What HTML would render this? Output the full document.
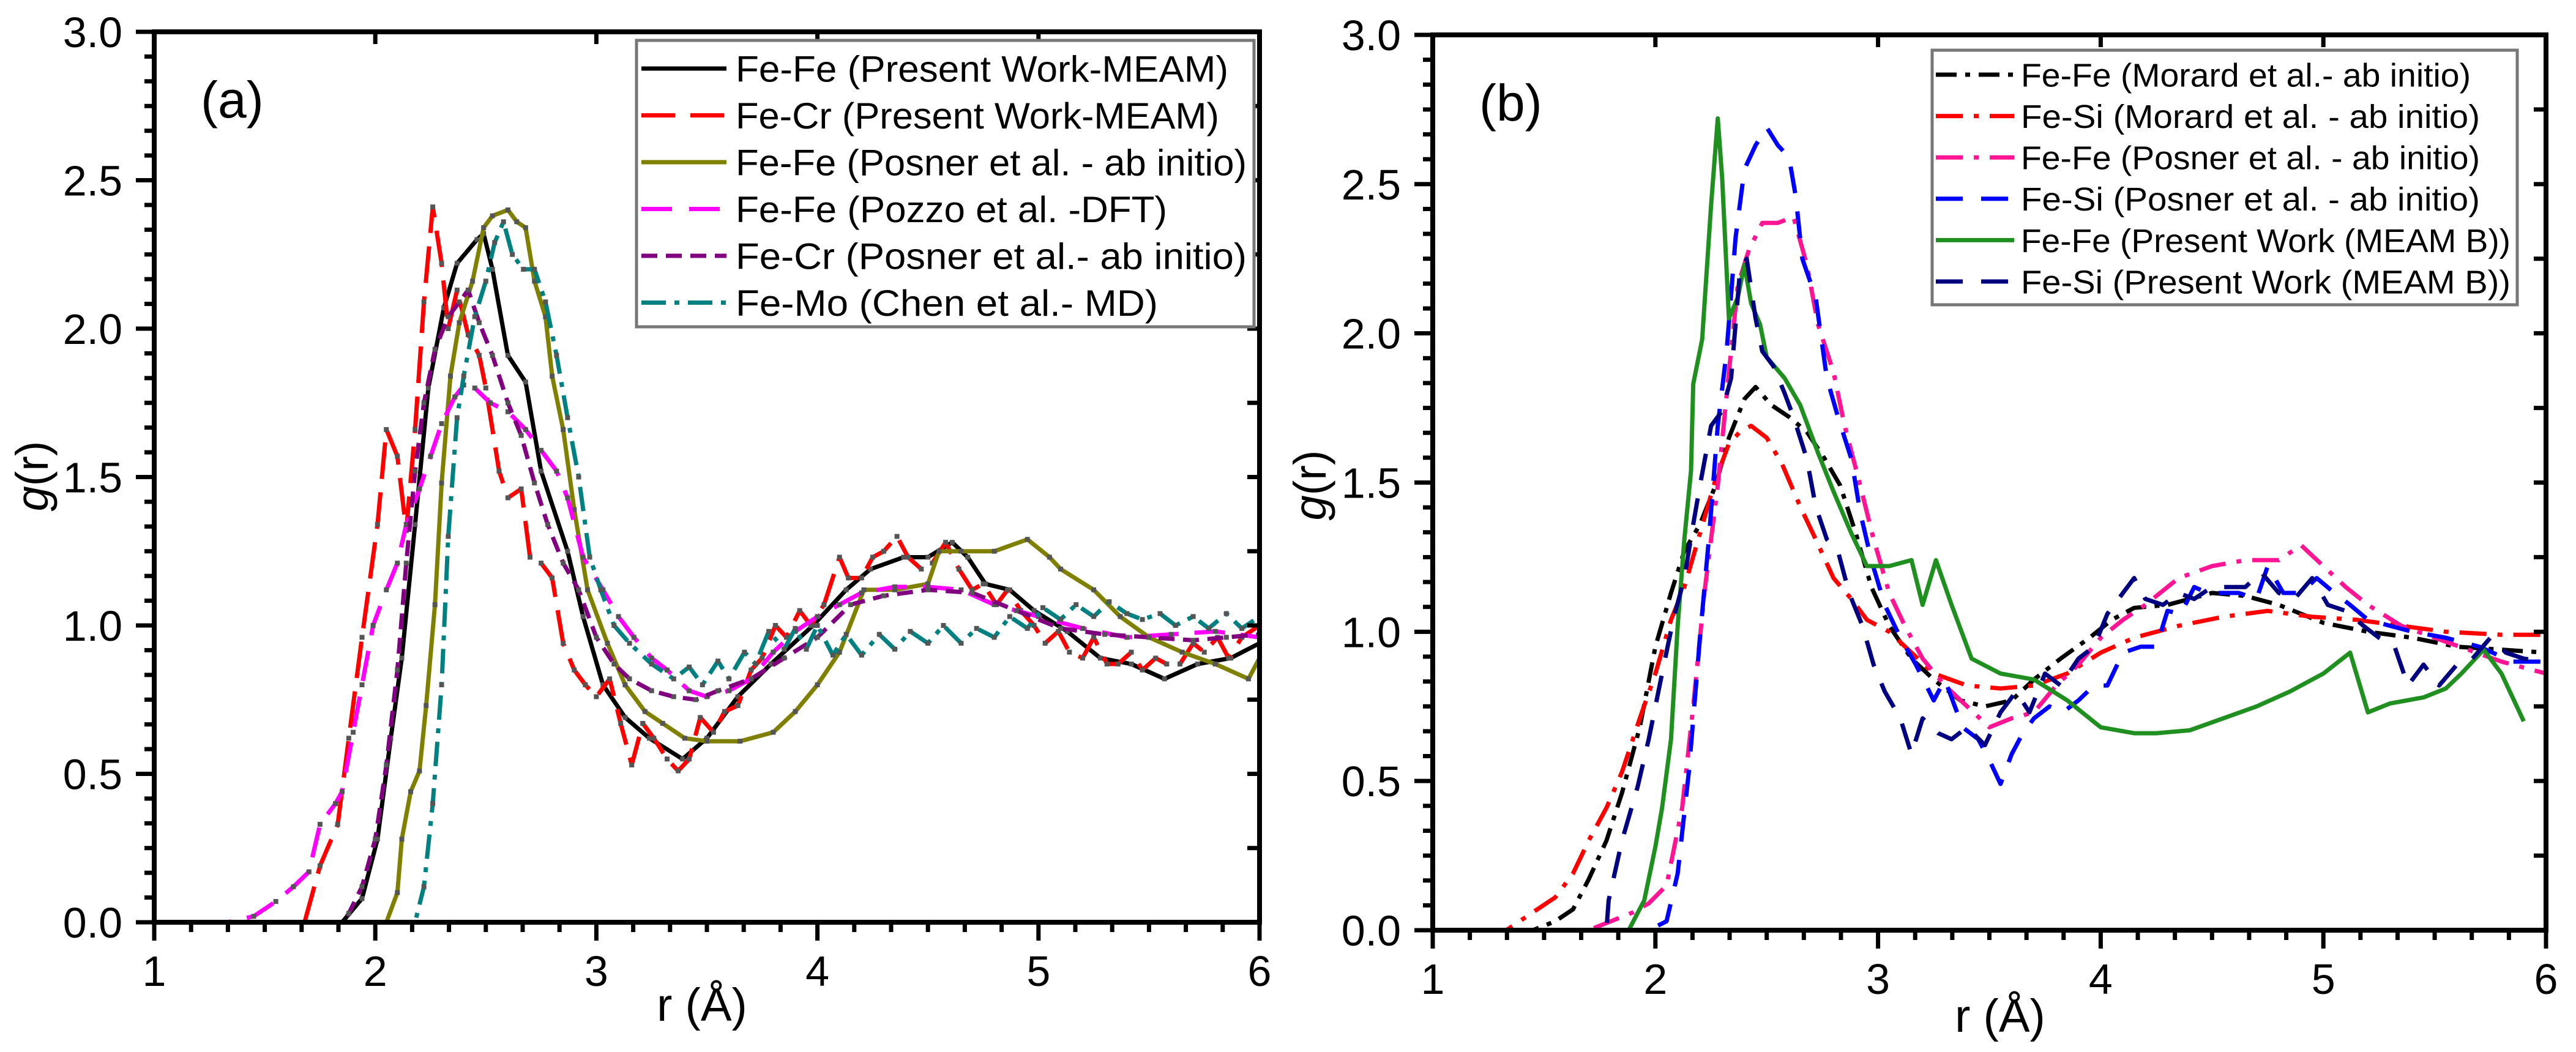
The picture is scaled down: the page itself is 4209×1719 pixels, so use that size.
<!DOCTYPE html>
<html><head><meta charset="utf-8"><style>
html,body{margin:0;padding:0;background:#fff;}
svg{display:block;font-family:"Liberation Sans",sans-serif;}
</style></head><body>
<svg id="fig" width="4209" height="1719" viewBox="0 0 4209 1719" xmlns="http://www.w3.org/2000/svg">
<g id="pa"></g>
<g id="pb"></g>
</svg>
<script>
// ---------- Panel (a) data ----------
const a_blackR=[1,1.85,1.94,2.01,2.07,2.12,2.18,2.24,2.31,2.37,2.46,2.49,2.53,2.6,2.68,2.75,2.87,2.94,3.03,3.13,3.24,3.39,3.5,3.64,3.79,3.98,4.13,4.24,4.39,4.5,4.61,4.68,4.76,4.87,4.98,5.13,5.28,5.42,5.57,5.72,5.87,6.0];
const a_blackG=[0,0,0.08,0.28,0.62,0.89,1.34,1.8,2.07,2.22,2.3,2.32,2.2,1.91,1.82,1.52,1.25,1.03,0.8,0.69,0.62,0.55,0.62,0.76,0.87,1.0,1.12,1.19,1.23,1.23,1.28,1.23,1.14,1.12,1.05,0.98,0.89,0.87,0.82,0.87,0.89,0.94];
const a_redR=[1,1.68,1.75,1.83,1.88,1.94,2.01,2.05,2.1,2.14,2.18,2.22,2.26,2.3,2.33,2.37,2.42,2.47,2.5,2.56,2.6,2.66,2.7,2.75,2.8,2.85,2.9,2.95,3.0,3.06,3.11,3.16,3.21,3.26,3.32,3.37,3.42,3.47,3.53,3.58,3.64,3.7,3.75,3.81,3.86,3.92,3.97,4.03,4.1,4.14,4.2,4.25,4.3,4.36,4.41,4.47,4.52,4.58,4.64,4.7,4.75,4.81,4.86,4.92,4.98,5.03,5.09,5.14,5.2,5.25,5.31,5.36,5.42,5.47,5.53,5.58,5.64,5.7,5.75,5.81,5.86,5.92,6.0];
const a_redG=[0,0,0.19,0.33,0.62,0.96,1.34,1.66,1.57,1.32,1.66,2.09,2.41,2.22,2.0,2.13,1.98,1.91,1.8,1.52,1.43,1.46,1.23,1.21,1.16,0.94,0.85,0.8,0.76,0.82,0.67,0.53,0.67,0.62,0.55,0.51,0.55,0.69,0.64,0.71,0.73,0.85,0.89,1.0,0.96,1.05,1.0,1.07,1.23,1.16,1.16,1.23,1.25,1.3,1.23,1.19,1.21,1.28,1.19,1.12,1.14,1.07,1.12,1.05,1.0,0.94,0.98,0.91,0.89,0.96,0.87,0.87,0.91,0.85,0.89,0.87,0.87,0.94,0.91,0.96,0.89,0.96,1.0];
const a_oliveR=[1,2.05,2.1,2.12,2.16,2.2,2.23,2.27,2.3,2.34,2.38,2.44,2.49,2.53,2.6,2.64,2.68,2.72,2.77,2.8,2.85,2.9,2.96,3.05,3.13,3.22,3.3,3.4,3.5,3.65,3.8,3.9,4.0,4.1,4.21,4.35,4.5,4.55,4.65,4.8,4.95,5.05,5.1,5.25,5.37,5.5,5.65,5.8,5.95,6.0];
const a_oliveG=[0,0,0.1,0.28,0.44,0.51,0.73,1.07,1.48,1.84,2.02,2.16,2.34,2.38,2.4,2.36,2.34,2.16,2.04,1.84,1.66,1.39,1.12,0.94,0.8,0.71,0.67,0.62,0.61,0.61,0.64,0.71,0.8,0.91,1.12,1.12,1.14,1.25,1.25,1.25,1.29,1.23,1.19,1.12,1.03,0.96,0.91,0.87,0.82,0.89];
const a_magR=[1,1.33,1.45,1.55,1.63,1.7,1.75,1.82,1.85,1.9,1.94,1.99,2.05,2.1,2.14,2.2,2.25,2.3,2.36,2.4,2.45,2.52,2.6,2.68,2.75,2.82,2.87,2.94,3.03,3.1,3.17,3.25,3.32,3.42,3.5,3.6,3.7,3.8,3.9,4.0,4.1,4.2,4.35,4.5,4.65,4.8,5.0,5.2,5.4,5.6,5.8,6.0];
const a_magG=[0,0,0.02,0.07,0.12,0.17,0.33,0.4,0.44,0.64,0.8,1.0,1.12,1.21,1.34,1.46,1.57,1.68,1.77,1.81,1.8,1.75,1.72,1.66,1.59,1.52,1.43,1.23,1.12,1.03,0.96,0.89,0.85,0.78,0.76,0.78,0.82,0.91,0.98,1.03,1.07,1.11,1.13,1.13,1.12,1.07,1.03,0.99,0.96,0.97,0.98,0.96];
const a_purR=[1,1.85,1.88,1.94,2.0,2.05,2.1,2.14,2.18,2.22,2.27,2.33,2.38,2.42,2.47,2.53,2.6,2.66,2.72,2.78,2.85,2.92,3.0,3.08,3.15,3.25,3.35,3.45,3.55,3.7,3.85,4.0,4.15,4.3,4.5,4.7,4.9,5.1,5.3,5.5,5.7,5.85,6.0];
const a_purG=[0,0,0.03,0.12,0.28,0.53,0.85,1.21,1.52,1.75,1.93,2.04,2.09,2.13,2.02,1.91,1.75,1.64,1.48,1.34,1.21,1.12,0.96,0.87,0.82,0.78,0.76,0.75,0.78,0.82,0.89,0.96,1.07,1.1,1.12,1.11,1.05,0.99,0.97,0.96,0.95,0.96,0.97];
const a_tealR=[1,2.18,2.22,2.26,2.3,2.33,2.37,2.4,2.45,2.5,2.54,2.58,2.62,2.67,2.72,2.77,2.82,2.87,2.92,2.97,3.02,3.08,3.15,3.25,3.35,3.42,3.48,3.55,3.6,3.67,3.72,3.78,3.85,3.9,3.95,4.0,4.07,4.13,4.2,4.28,4.35,4.42,4.5,4.57,4.65,4.72,4.8,4.87,4.95,5.02,5.1,5.17,5.25,5.32,5.4,5.47,5.55,5.62,5.7,5.77,5.85,5.92,6.0];
const a_tealG=[0,0,0.12,0.4,0.8,1.3,1.7,1.84,2.04,2.16,2.29,2.36,2.25,2.2,2.2,2.09,1.91,1.7,1.5,1.23,1.12,1.0,0.94,0.87,0.82,0.86,0.8,0.88,0.82,0.91,0.87,0.98,0.92,0.99,0.92,1.0,0.9,0.97,0.9,0.97,0.92,0.98,0.94,1.0,0.94,0.99,0.96,1.03,0.99,1.06,1.02,1.07,1.03,1.08,1.04,1.02,1.04,1.0,1.03,0.99,1.04,0.99,1.03];
// ---------- Panel (b) data ----------
const b_blackR=[1,1.45,1.55,1.63,1.7,1.78,1.85,1.93,2.0,2.07,2.13,2.2,2.27,2.33,2.4,2.45,2.52,2.6,2.68,2.76,2.83,2.9,2.97,3.05,3.15,3.25,3.37,3.48,3.6,3.7,3.82,3.95,4.05,4.15,4.3,4.5,4.65,4.8,5.0,5.2,5.4,5.6,5.8,6.0];
const b_blackG=[0,0,0.03,0.07,0.17,0.3,0.46,0.68,0.95,1.13,1.27,1.36,1.49,1.65,1.78,1.82,1.76,1.72,1.67,1.58,1.49,1.33,1.15,1.02,0.91,0.84,0.77,0.75,0.77,0.84,0.91,0.98,1.04,1.08,1.09,1.13,1.12,1.09,1.03,1.0,0.98,0.95,0.94,0.93];
const b_redR=[1,1.33,1.45,1.55,1.63,1.7,1.78,1.85,1.93,2.0,2.07,2.13,2.2,2.27,2.33,2.38,2.43,2.5,2.57,2.65,2.72,2.8,2.88,2.95,3.05,3.15,3.25,3.4,3.55,3.7,3.85,4.0,4.15,4.35,4.55,4.75,4.95,5.15,5.35,5.55,5.8,6.0];
const b_redG=[0,0,0.06,0.11,0.19,0.3,0.41,0.53,0.71,0.86,1.04,1.15,1.33,1.51,1.63,1.67,1.69,1.65,1.56,1.42,1.31,1.18,1.11,1.04,1.0,0.93,0.86,0.82,0.81,0.82,0.86,0.93,0.98,1.02,1.05,1.07,1.05,1.04,1.02,1.0,0.99,0.99];
const b_pinkR=[1,1.7,1.8,1.9,1.97,2.05,2.12,2.17,2.22,2.28,2.33,2.37,2.42,2.48,2.55,2.62,2.68,2.73,2.8,2.85,2.92,2.98,3.05,3.12,3.2,3.3,3.4,3.5,3.6,3.7,3.8,3.9,4.0,4.1,4.2,4.35,4.5,4.65,4.8,4.9,5.0,5.1,5.2,5.35,5.5,5.65,5.8,6.0];
const b_pinkG=[0,0,0.03,0.06,0.09,0.15,0.41,0.75,1.13,1.49,1.87,2.16,2.28,2.37,2.37,2.39,2.23,2.03,1.87,1.69,1.49,1.31,1.13,1.02,0.91,0.82,0.75,0.68,0.71,0.73,0.82,0.89,0.98,1.04,1.09,1.18,1.22,1.24,1.24,1.29,1.22,1.15,1.09,1.02,0.98,0.94,0.9,0.86];
const b_blueR=[1,1.97,2.05,2.1,2.15,2.2,2.24,2.28,2.32,2.36,2.4,2.45,2.5,2.55,2.6,2.63,2.66,2.72,2.77,2.82,2.88,2.92,2.97,3.03,3.1,3.17,3.25,3.3,3.38,3.45,3.5,3.55,3.6,3.65,3.7,3.77,3.83,3.9,3.97,4.03,4.1,4.18,4.25,4.3,4.36,4.42,4.48,4.55,4.62,4.7,4.75,4.82,4.9,4.97,5.05,5.12,5.2,5.3,5.4,5.55,5.7,5.85,6.0];
const b_blueG=[0,0,0.03,0.19,0.53,0.98,1.31,1.69,1.94,2.32,2.55,2.63,2.69,2.63,2.59,2.46,2.25,2.12,1.85,1.72,1.58,1.4,1.24,1.09,0.98,0.89,0.77,0.84,0.68,0.64,0.57,0.49,0.59,0.66,0.71,0.75,0.73,0.77,0.82,0.82,0.93,0.95,0.95,1.07,1.06,1.15,1.13,1.13,1.13,1.11,1.22,1.13,1.13,1.18,1.13,1.09,1.04,1.02,1.0,0.98,0.95,0.9,0.9];
const b_greenR=[1,1.88,1.95,2.0,2.03,2.07,2.1,2.13,2.16,2.17,2.21,2.25,2.28,2.3,2.33,2.37,2.4,2.43,2.47,2.5,2.58,2.65,2.73,2.8,2.88,2.95,3.05,3.15,3.2,3.26,3.33,3.42,3.55,3.7,3.85,4.0,4.15,4.25,4.4,4.55,4.7,4.85,5.0,5.12,5.2,5.3,5.45,5.55,5.62,5.72,5.8,5.9];
const b_greenG=[0,0,0.1,0.28,0.41,0.64,1.02,1.31,1.54,1.83,1.98,2.43,2.72,2.52,2.05,2.12,2.23,2.1,2.03,1.92,1.85,1.76,1.6,1.47,1.33,1.22,1.22,1.24,1.09,1.24,1.09,0.91,0.86,0.84,0.77,0.68,0.66,0.66,0.67,0.71,0.75,0.8,0.86,0.93,0.73,0.76,0.78,0.81,0.86,0.94,0.86,0.7];
const b_navyR=[1,1.78,1.79,1.85,1.92,1.97,2.03,2.08,2.13,2.17,2.2,2.25,2.3,2.34,2.38,2.41,2.45,2.48,2.53,2.58,2.62,2.68,2.72,2.77,2.82,2.87,2.93,2.98,3.03,3.1,3.15,3.2,3.27,3.33,3.4,3.48,3.55,3.62,3.68,3.75,3.82,3.9,3.97,4.03,4.1,4.15,4.2,4.28,4.35,4.42,4.5,4.58,4.65,4.72,4.8,4.87,4.95,5.02,5.1,5.18,5.25,5.32,5.38,5.45,5.52,5.6,5.67,5.75,5.82,5.9,6.0];
const b_navyG=[0,0,0.1,0.3,0.48,0.64,0.86,1.04,1.18,1.36,1.49,1.69,1.74,1.85,2.21,2.25,2.05,1.94,1.89,1.8,1.72,1.58,1.42,1.31,1.27,1.13,1.02,0.89,0.8,0.71,0.59,0.71,0.66,0.64,0.68,0.62,0.73,0.8,0.73,0.86,0.82,0.91,0.95,1.06,1.13,1.18,1.11,1.09,1.13,1.11,1.15,1.15,1.15,1.2,1.13,1.11,1.18,1.09,1.07,1.02,0.98,0.95,0.82,0.89,0.82,0.89,0.91,0.98,0.93,0.91,0.9];
const xTicks=[1,2,3,4,5,6];
const yTicks=[0,0.5,1,1.5,2,2.5,3];
const yTickLabels=["0.0","0.5","1.0","1.5","2.0","2.5","3.0"];

const NS="http://www.w3.org/2000/svg";
function mk(parent,tag,attrs,text){const e=document.createElementNS(NS,tag);for(const k in attrs)e.setAttribute(k,attrs[k]);if(text!==undefined)e.textContent=text;parent.appendChild(e);return e;}

function panel(g,box,label,series,legend){
  const sx=r=>box.x0+(r-1)/5*(box.x1-box.x0);
  const sy=v=>box.y0-(v/3)*(box.y0-box.y1);
  // series
  series.forEach(s=>{
    let d="";
    s.r.forEach((r,i)=>{d+=(i?"L":"M")+sx(r).toFixed(1)+","+sy(s.g[i]).toFixed(1);});
    const p=mk(g,"path",{d:d,fill:"none",stroke:s.c,"stroke-width":7,"stroke-linejoin":"round","stroke-dasharray":s.dash||"none"});
    
    
    if(s.mark){
      s.r.forEach((r,i)=>{
        const m=mk(g,"rect",{x:sx(r)-4,y:sy(s.g[i])-4,width:8,height:8,fill:"#555"});
        
        
      });
    }
  });
  // axes frame
  const fr=mk(g,"rect",{x:box.x0,y:box.y1,width:box.x1-box.x0,height:box.y0-box.y1,fill:"none",stroke:"#000","stroke-width":8});
  
  
  // x ticks
  for(let i=0;i<=30;i++){
    const r=1+i/6, x=sx(r), major=i%6===0;
    const t=mk(g,"line",{x1:x,x2:x,y1:box.y0,y2:box.y0+(major?30:16),stroke:"#000","stroke-width":7});
    
    
    if(major&&i>0&&i<30){
      const tt=mk(g,"line",{x1:x,x2:x,y1:box.y1,y2:box.y1+20,stroke:"#000","stroke-width":7});
      
      
    }
  }
  xTicks.forEach(v=>{
    const t=mk(g,"text",{x:sx(v),y:box.y0+104,"font-size":70,"text-anchor":"middle",fill:"#000"},String(v));
    
    
  });
  // y ticks
  for(let i=0;i<=36;i++){
    const v=i/12, y=sy(v), major=i%6===0;
    const t=mk(g,"line",{x1:box.x0,x2:box.x0-(major?30:16),y1:y,y2:y,stroke:"#000","stroke-width":7});
    
    
    if(i%3===0&&i>0&&i<36){
      const rt=mk(g,"line",{x1:box.x1,x2:box.x1-20,y1:y,y2:y,stroke:"#000","stroke-width":7});
      
      
    }
  }
  yTicks.forEach((v,i)=>{
    const t=mk(g,"text",{x:box.x0-52,y:sy(v)+25,"font-size":70,"text-anchor":"end",fill:"#000"},yTickLabels[i]);
    
    
  });
  // axis titles
  const yt=mk(g,"text",{x:0,y:0,"font-size":74,"text-anchor":"middle",fill:"#000",transform:`translate(${box.ytx},${box.yty}) rotate(-90)`},"");
  
  
  const it=mk(yt,"tspan",{"font-style":"italic"},"g"); mk(yt,"tspan",{},"(r)");
  
  
  const xt=mk(g,"text",{x:box.xtx,y:box.xty,"font-size":76,"text-anchor":"middle",fill:"#000"},"r (Å)");
  
  
  const pl=mk(g,"text",{x:box.x0+76,y:box.labY,"font-size":84,fill:"#000"},label);
  
  
  // legend
  const L=legend;
  const lb=mk(g,"rect",{x:L.x,y:L.y,width:L.w,height:L.h,fill:"#fff",stroke:"#777","stroke-width":5});
  
  
  series.forEach((s,i)=>{
    const y=L.row0+i*L.step;
    const ls=mk(g,"line",{x1:L.lx0,x2:L.lx1,y1:y,y2:y,stroke:s.c,"stroke-width":7,"stroke-dasharray":s.ldash||s.dash||"none"});
    
    
    const tx=mk(g,"text",{x:L.tx,y:y+L.fs*0.36,"font-size":L.fs,fill:"#000",textLength:s.tl,lengthAdjust:"spacingAndGlyphs"},s.label);
    
    
  });
}

panel(document.getElementById('pa'),
 {x0:252,x1:2058,y0:1507,y1:52,ytx:78,yty:778,xtx:1147,xty:1668,labY:192},
 "(a)",
 [
  {name:'fe-fe-present-meam',r:a_blackR,g:a_blackG,c:'#000',mark:true,label:'Fe-Fe (Present Work-MEAM)',tl:805},
  {name:'fe-cr-present-meam',r:a_redR,g:a_redG,c:'#ff0000',dash:'60 22',mark:true,ldash:'55 25',label:'Fe-Cr (Present Work-MEAM)',tl:790},
  {name:'fe-fe-posner',r:a_oliveR,g:a_oliveG,c:'#808000',mark:true,label:'Fe-Fe (Posner et al. - ab initio)',tl:835},
  {name:'fe-fe-pozzo',r:a_magR,g:a_magG,c:'#ff00ff',dash:'50 26',mark:true,ldash:'50 28',label:'Fe-Fe (Pozzo et al. -DFT)',tl:705},
  {name:'fe-cr-posner',r:a_purR,g:a_purG,c:'#800080',dash:'26 14',mark:true,label:'Fe-Cr  (Posner et al.- ab initio)',tl:835},
  {name:'fe-mo-chen',r:a_tealR,g:a_tealG,c:'#008080',dash:'40 14 8 14',mark:true,label:'Fe-Mo (Chen  et al.- MD)',tl:690}
 ],
 {x:1040,y:66,w:1009,h:468,row0:112,step:76.5,lx0:1048,lx1:1187,tx:1202,fs:60});

panel(document.getElementById('pb'),
 {x0:2341,x1:4160,y0:1520,y1:57,ytx:2166,yty:793,xtx:3268,xty:1686,labY:197},
 "(b)",
 [
  {name:'fe-fe-morard',r:b_blackR,g:b_blackG,c:'#000',dash:'34 14 8 14',label:'Fe-Fe (Morard et al.- ab initio)',tl:735},
  {name:'fe-si-morard',r:b_redR,g:b_redG,c:'#ff0000',dash:'44 18 8 18',label:'Fe-Si  (Morard et al. - ab initio)',tl:750},
  {name:'fe-fe-posner-b',r:b_pinkR,g:b_pinkG,c:'#ff1493',dash:'44 18 8 18',label:'Fe-Fe (Posner et al. - ab initio)',tl:750},
  {name:'fe-si-posner',r:b_blueR,g:b_blueG,c:'#0000ff',dash:'44 30',label:'Fe-Si  (Posner et al. - ab initio)',tl:750},
  {name:'fe-fe-present-meam-b',r:b_greenR,g:b_greenG,c:'#1f8f1f',label:'Fe-Fe (Present Work (MEAM B))',tl:800},
  {name:'fe-si-present-meam-b',r:b_navyR,g:b_navyG,c:'#000080',dash:'44 30',label:'Fe-Si  (Present Work (MEAM B))',tl:800}
 ],
 {x:3157,y:82,w:956,h:416,row0:122,step:67.6,lx0:3163,lx1:3291,tx:3302,fs:54});
</script>
</body></html>
